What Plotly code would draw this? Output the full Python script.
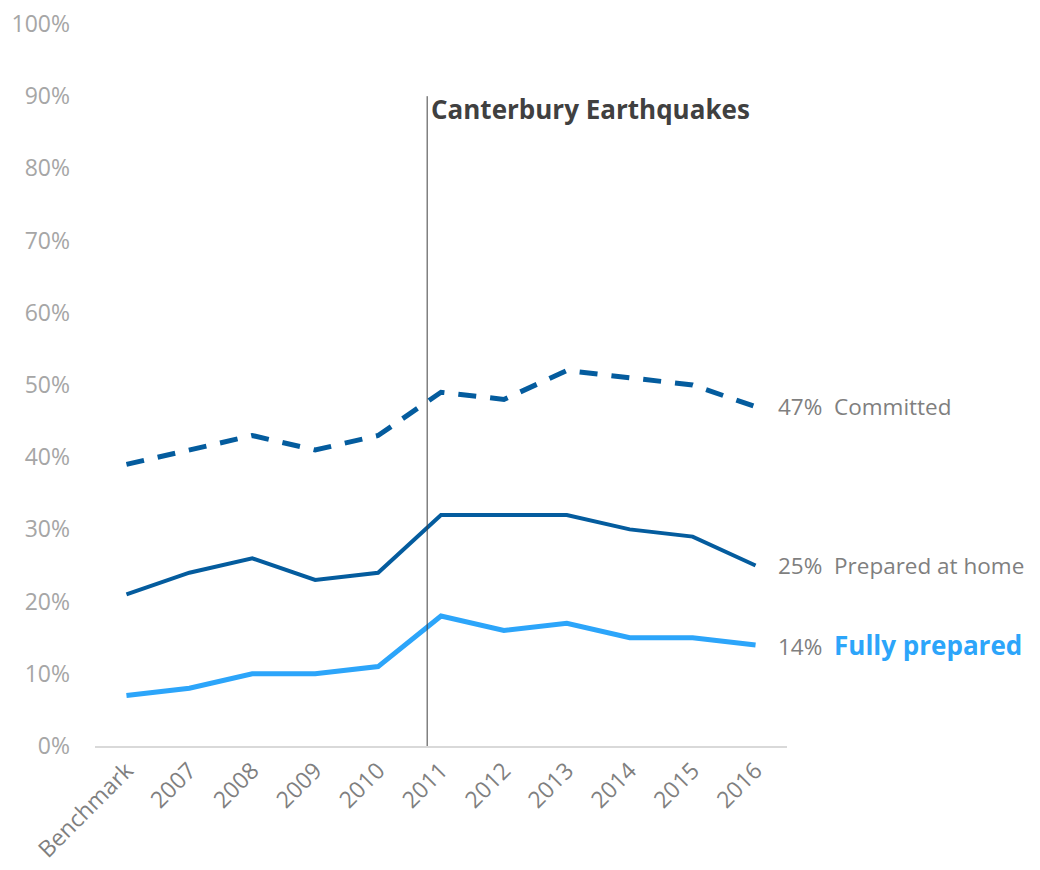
import plotly.graph_objects as go

categories = ["Benchmark", "2007", "2008", "2009", "2010", "2011",
              "2012", "2013", "2014", "2015", "2016"]
committed = [39, 41, 43, 41, 43, 49, 48, 52, 51, 50, 47]
prepared_home = [21, 24, 26, 23, 24, 32, 32, 32, 30, 29, 25]
fully_prepared = [7, 8, 10, 10, 11, 18, 16, 17, 15, 15, 14]

quake_pos = 4.78  # between 2010 and 2011
dark_blue = "#045C9E"
light_blue = "#2CA5FA"
font = "Open Sans"

idx = list(range(len(categories)))

fig = go.Figure()
fig.add_trace(go.Scatter(x=idx, y=committed, mode="lines",
                         line=dict(color=dark_blue, width=5, dash="18px,14px")))
fig.add_trace(go.Scatter(x=idx, y=prepared_home, mode="lines",
                         line=dict(color=dark_blue, width=4)))
fig.add_trace(go.Scatter(x=idx, y=fully_prepared, mode="lines",
                         line=dict(color=light_blue, width=5)))

# earthquake marker
fig.add_shape(type="line", x0=quake_pos, x1=quake_pos, y0=0, y1=90,
              xref="x", yref="y", line=dict(color="#404040", width=1))
fig.add_annotation(x=quake_pos, y=88.2, xref="x", yref="y", text="<b>Canterbury Earthquakes</b>",
                   showarrow=False, xanchor="left", yanchor="middle", xshift=2,
                   font=dict(family=font, size=26, color="#404040"))

# end labels
labels = [
    (committed[-1], "Committed", "#7F7F7F", 22.5, False),
    (prepared_home[-1], "Prepared at home", "#7F7F7F", 22.5, False),
    (fully_prepared[-1], "Fully prepared", light_blue, 26, True),
]
for val, name, col, size, bold in labels:
    name_txt = f"<b>{name}</b>" if bold else name
    fig.add_annotation(x=idx[-1], y=val, xref="x", yref="y",
                       text=f"<span style='color:#7F7F7F;font-size:22.5px'>{val}%&nbsp;&nbsp;</span>"
                            f"<span style='color:{col};font-size:{size}px'>{name_txt}</span>",
                       showarrow=False, xanchor="left", yanchor="middle", xshift=20,
                       font=dict(family=font, size=22.5, color="#7F7F7F"))

fig.update_layout(
    width=1040, height=870,
    margin=dict(l=87, r=261, t=16, b=132),
    paper_bgcolor="white", plot_bgcolor="white",
    showlegend=False,
    font=dict(family=font),
)
fig.update_xaxes(range=[-0.5, 10.5], tickvals=idx, ticktext=categories, tickangle=-45,
                 showgrid=False, zeroline=False, showline=True, linecolor="#D9D9D9",
                 linewidth=2, ticks="", automargin=False,
                 tickfont=dict(family=font, size=23, color="#7F7F7F"))
fig.update_yaxes(range=[0, 100], dtick=10, ticksuffix="%", showgrid=False,
                 zeroline=False, showline=False, ticks="", ticklabelstandoff=24,
                 automargin=False, ticklabeloverflow="allow",
                 tickfont=dict(family=font, size=23, color="#A6A6A6"))

fig.write_html("out.html")
